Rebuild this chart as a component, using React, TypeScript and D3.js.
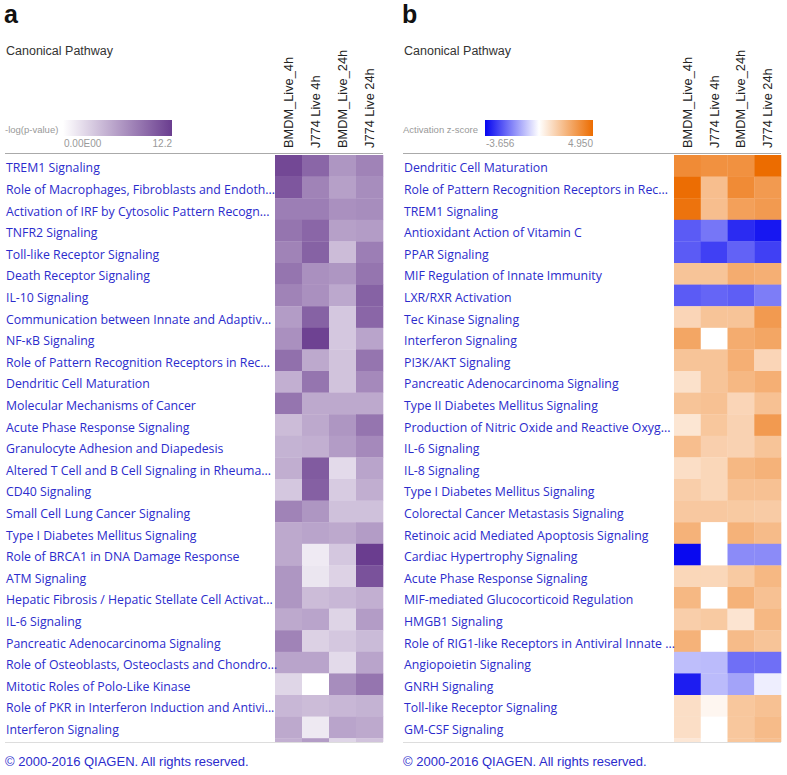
import React from 'react';
import * as d3 from 'd3';

// sample columns (same for both panels)
const samples = ['BMDM_Live_4h', 'J774 Live 4h', 'BMDM_Live_24h', 'J774 Live 24h'];

// panel a: -log(p-value)
const pathwaysA = [
  'TREM1 Signaling',
  'Role of Macrophages, Fibroblasts and Endoth...',
  'Activation of IRF by Cytosolic Pattern Recogn...',
  'TNFR2 Signaling',
  'Toll-like Receptor Signaling',
  'Death Receptor Signaling',
  'IL-10 Signaling',
  'Communication between Innate and Adaptiv...',
  'NF-κB Signaling',
  'Role of Pattern Recognition Receptors in Rec...',
  'Dendritic Cell Maturation',
  'Molecular Mechanisms of Cancer',
  'Acute Phase Response Signaling',
  'Granulocyte Adhesion and Diapedesis',
  'Altered T Cell and B Cell Signaling in Rheuma...',
  'CD40 Signaling',
  'Small Cell Lung Cancer Signaling',
  'Type I Diabetes Mellitus Signaling',
  'Role of BRCA1 in DNA Damage Response',
  'ATM Signaling',
  'Hepatic Fibrosis / Hepatic Stellate Cell Activat...',
  'IL-6 Signaling',
  'Pancreatic Adenocarcinoma Signaling',
  'Role of Osteoblasts, Osteoclasts and Chondro...',
  'Mitotic Roles of Polo-Like Kinase',
  'Role of PKR in Interferon Induction and Antivi...',
  'Interferon Signaling',
  '',
];

const pvalA: number[][] = [
  [11.5, 9.6, 6.6, 7.8],
  [10.6, 7.8, 6.0, 7.2],
  [8.1, 8.1, 7.0, 7.2],
  [8.7, 9.6, 6.0, 6.2],
  [7.8, 9.9, 4.2, 8.1],
  [8.7, 7.0, 6.6, 8.7],
  [7.8, 7.0, 5.5, 9.9],
  [6.2, 9.9, 3.5, 9.6],
  [7.0, 11.9, 3.5, 5.7],
  [9.0, 5.4, 3.8, 8.7],
  [5.0, 8.7, 3.8, 7.4],
  [8.7, 5.4, 5.4, 5.4],
  [4.2, 5.4, 6.6, 8.7],
  [4.8, 5.0, 6.2, 7.4],
  [5.1, 10.3, 2.3, 5.7],
  [3.5, 10.0, 3.3, 5.1],
  [7.8, 6.6, 3.9, 3.9],
  [5.4, 5.7, 5.4, 6.2],
  [5.4, 1.3, 3.5, 12.2],
  [6.6, 1.6, 2.8, 10.9],
  [6.6, 4.2, 4.5, 5.0],
  [5.4, 5.7, 2.7, 6.2],
  [7.8, 2.9, 3.5, 4.3],
  [5.7, 5.7, 2.3, 5.7],
  [2.6, 0, 7.2, 8.7],
  [4.5, 4.2, 4.5, 4.8],
  [5.4, 1.4, 5.7, 5.4],
  [5.0, 6.2, 2.6, 3.8],
];

// panel b: activation z-score (null = no score)
const pathwaysB = [
  'Dendritic Cell Maturation',
  'Role of Pattern Recognition Receptors in Rec...',
  'TREM1 Signaling',
  'Antioxidant Action of Vitamin C',
  'PPAR Signaling',
  'MIF Regulation of Innate Immunity',
  'LXR/RXR Activation',
  'Tec Kinase Signaling',
  'Interferon Signaling',
  'PI3K/AKT Signaling',
  'Pancreatic Adenocarcinoma Signaling',
  'Type II Diabetes Mellitus Signaling',
  'Production of Nitric Oxide and Reactive Oxyg...',
  'IL-6 Signaling',
  'IL-8 Signaling',
  'Type I Diabetes Mellitus Signaling',
  'Colorectal Cancer Metastasis Signaling',
  'Retinoic acid Mediated Apoptosis Signaling',
  'Cardiac Hypertrophy Signaling',
  'Acute Phase Response Signaling',
  'MIF-mediated Glucocorticoid Regulation',
  'HMGB1 Signaling',
  'Role of RIG1-like Receptors in Antiviral Innate ...',
  'Angiopoietin Signaling',
  'GNRH Signaling',
  'Toll-like Receptor Signaling',
  'GM-CSF Signaling',
  '',
];

const zB: (number | null)[][] = [
  [3.9, 3.7, 3.7, 4.95],
  [4.9, 2.2, 3.9, 3.4],
  [4.7, 2.2, 3.2, 3.4],
  [-2.4, -2.0, -3.1, -3.4],
  [-2.4, -2.8, -2.3, -2.8],
  [2.0, 2.0, 2.8, 2.7],
  [-2.4, -2.25, -2.35, -1.9],
  [1.4, 2.0, 2.0, 3.4],
  [3.0, null, 2.8, 3.0],
  [2.0, 2.0, 2.7, 1.4],
  [1.0, 2.0, 2.4, 2.7],
  [2.0, 2.1, 1.4, 2.1],
  [0.85, 1.9, 1.5, 3.4],
  [2.2, 1.6, 1.5, 2.0],
  [1.1, 1.35, 2.4, 2.6],
  [1.65, 1.35, 2.1, 2.1],
  [1.85, 1.85, 1.8, 1.75],
  [2.6, null, 2.6, 2.3],
  [-3.6, null, -1.7, -1.7],
  [1.35, 1.35, 1.8, 2.4],
  [2.4, null, 2.6, 2.1],
  [1.65, 1.8, 0.9, 2.4],
  [2.6, null, 2.3, 2.0],
  [-0.95, -1.0, -2.1, -2.1],
  [-3.3, -1.0, -1.35, -0.25],
  [1.1, 0.3, 1.9, 2.1],
  [1.1, null, 1.9, 2.3],
  [0.8, null, 1.9, 2.2],
];

const W = 787;
const H = 775;
const TOP = 155;
const ROW_H = 21.6;
const CLIP_BOTTOM = 742;
const LINK = '#2b2bcc';
const LABEL_FONT = '"Open Sans", "Noto Sans", sans-serif';
const ARIAL = '"Liberation Sans", Arial, sans-serif';

const purple = d3.scaleLinear<string>().domain([0, 12.2]).range(['#ffffff', '#6a3d8f']);
const blueOrange = d3
  .scaleLinear<string>()
  .domain([-3.656, 0, 4.95])
  .range(['#0505f0', '#ffffff', '#ec6c00']);

type PanelProps = {
  id: string;
  letter: string;
  ox: number;
  heatX0: number;
  heatX1: number;
  rows: string[];
  values: (number | null)[][];
  color: (v: number) => string;
  legendTitle: string;
  legendX0: number;
  legendX1: number;
  legendMin: string;
  legendMax: string;
  stops: string[];
};

const Panel = (p: PanelProps) => {
  const x = d3.scaleBand<string>().domain(samples).range([p.heatX0, p.heatX1]);
  const y = d3
    .scaleBand<number>()
    .domain(d3.range(p.rows.length))
    .range([TOP, TOP + ROW_H * p.rows.length]);
  const gradId = `grad-${p.id}`;
  const clipId = `clip-${p.id}`;
  return (
    <g>
      <defs>
        <linearGradient id={gradId} x1="0" x2="1" y1="0" y2="0">
          {p.stops.map((c, i) => (
            <stop key={i} offset={`${(i / (p.stops.length - 1)) * 100}%`} stopColor={c} />
          ))}
        </linearGradient>
        <clipPath id={clipId}>
          <rect x={p.ox - 10} y={TOP - 1} width={400} height={CLIP_BOTTOM - TOP + 1} />
        </clipPath>
      </defs>

      <text x={p.ox - 1} y={23} fontFamily={ARIAL} fontWeight="bold" fontSize={25} fill="#111">
        {p.letter}
      </text>
      <text x={p.ox + 1} y={55} fontFamily={ARIAL} fontSize={12.5} fill="#333">
        Canonical Pathway
      </text>

      {/* legend */}
      <text x={p.ox} y={133} fontFamily={ARIAL} fontSize={9.5} fill="#999">
        {p.legendTitle}
      </text>
      <rect
        x={p.legendX0}
        y={120}
        width={p.legendX1 - p.legendX0}
        height={16}
        fill={`url(#${gradId})`}
      />
      <text x={p.legendX0 + 1} y={147} fontFamily={ARIAL} fontSize={10} fill="#999">
        {p.legendMin}
      </text>
      <text x={p.legendX1} y={147} textAnchor="end" fontFamily={ARIAL} fontSize={10} fill="#999">
        {p.legendMax}
      </text>

      {/* column headers */}
      {samples.map(s => {
        const cx = (x(s) as number) + x.bandwidth() / 2 + 4.5;
        return (
          <text
            key={s}
            transform={`translate(${cx},148) rotate(-90)`}
            fontFamily={ARIAL}
            fontSize={12.8}
            fill="#222"
          >
            {s}
          </text>
        );
      })}

      <line x1={p.ox} x2={p.heatX1} y1={153.5} y2={153.5} stroke="#aaa" strokeWidth={1.2} />

      <g clipPath={`url(#${clipId})`}>
        {p.rows.map((r, i) => (
          <g key={i}>
            {samples.map((s, j) => {
              const v = p.values[i][j];
              return (
                <rect
                  key={s}
                  x={x(s)}
                  y={y(i)}
                  width={x.bandwidth() + 0.3}
                  height={y.bandwidth() + 0.3}
                  fill={v == null ? '#ffffff' : p.color(v)}
                />
              );
            })}
            <text
              x={p.ox + 1}
              y={(y(i) as number) + y.bandwidth() / 2 + 6.5}
              fontFamily={LABEL_FONT}
              fontSize={12.3}
              fill={LINK}
            >
              {r}
            </text>
          </g>
        ))}
      </g>

      <line x1={p.ox} x2={p.heatX1} y1={742.5} y2={742.5} stroke="#ddd" strokeWidth={1.2} />
      <text x={p.ox} y={766} fontFamily={ARIAL} fontSize={13} fill={LINK}>
        © 2000-2016 QIAGEN. All rights reserved.
      </text>
    </g>
  );
};

export default function App() {
  return (
    <svg
      width={W}
      height={H}
      style={{ position: 'absolute', left: 0, top: 0, background: '#fff' }}
    >
      <rect width={W} height={H} fill="#fff" />
      <Panel
        id="a"
        letter="a"
        ox={5}
        heatX0={275}
        heatX1={383}
        rows={pathwaysA}
        values={pvalA}
        color={purple}
        legendTitle="-log(p-value)"
        legendX0={63}
        legendX1={172}
        legendMin="0.00E00"
        legendMax="12.2"
        stops={[purple(0), purple(6.1), purple(12.2)]}
      />
      <Panel
        id="b"
        letter="b"
        ox={403}
        heatX0={674}
        heatX1={781}
        rows={pathwaysB}
        values={zB}
        color={blueOrange}
        legendTitle="Activation z-score"
        legendX0={485}
        legendX1={593}
        legendMin="-3.656"
        legendMax="4.950"
        stops={[blueOrange(-3.656), blueOrange(-1.8), blueOrange(0), blueOrange(2.5), blueOrange(4.95)]}
      />
    </svg>
  );
}
